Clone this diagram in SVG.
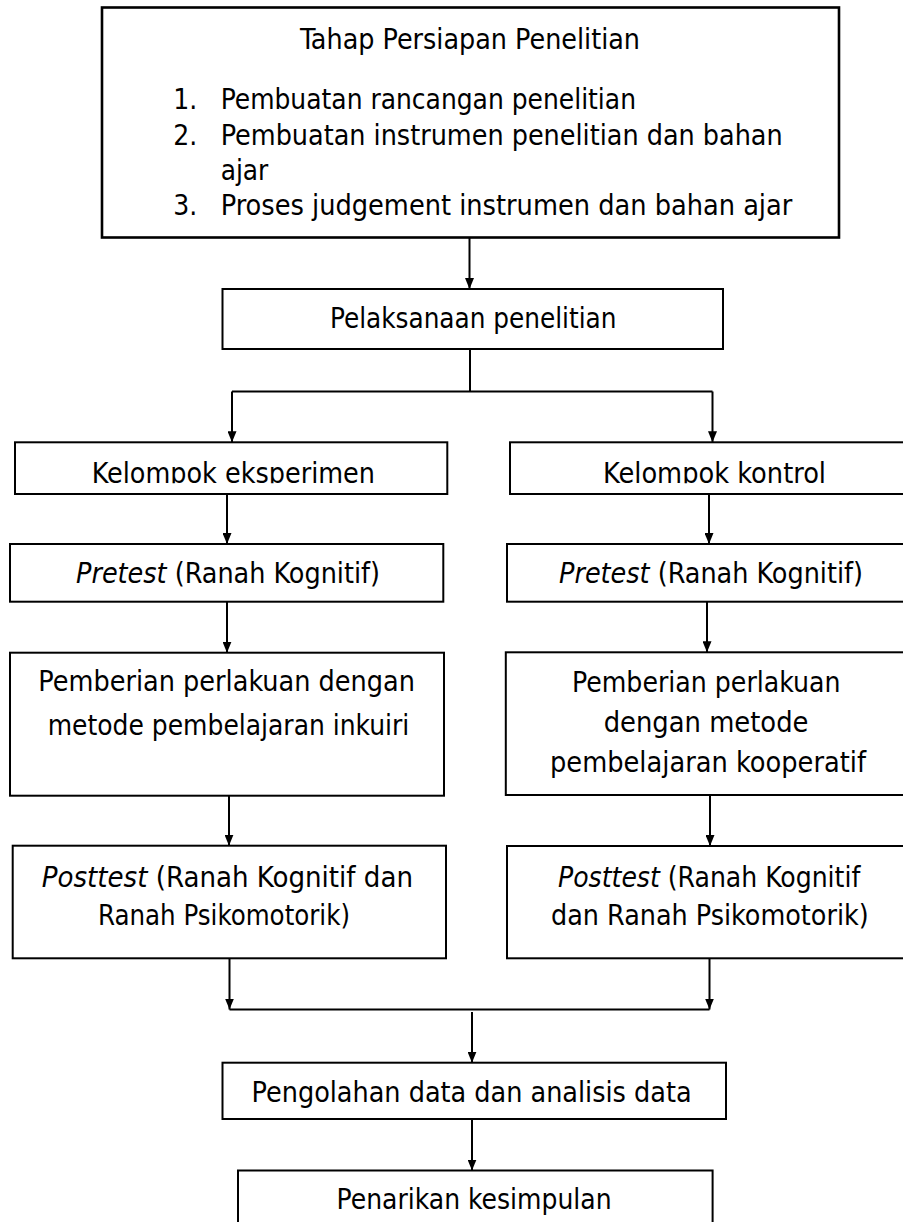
<svg xmlns="http://www.w3.org/2000/svg" width="903" height="1222" viewBox="0 0 903 1222">
<defs>
<style>
.box{fill:#fff;stroke:#000;stroke-width:2}
.big{stroke-width:2.6}
.t{font-family:"DejaVu Sans Condensed","DejaVu Sans",sans-serif;font-stretch:condensed;font-size:28px;fill:#000}
.i{font-style:italic}
.c{fill:none;stroke:#000;stroke-width:2}
</style>
<marker id="arr" markerUnits="userSpaceOnUse" markerWidth="11" markerHeight="9" refX="11" refY="4.5" orient="auto">
<path d="M0,0 L11,4.5 L0,9 Z" fill="#000"/>
</marker>
<clipPath id="clipK1"><rect x="15" y="442" width="433" height="41.3"/></clipPath>
<clipPath id="clipK2"><rect x="510" y="442" width="400" height="41.3"/></clipPath>
</defs>
<rect width="903" height="1222" fill="#fff"/>

<g id="node-persiapan">
<rect class="box big" x="102" y="7.5" width="737" height="230"/>
<text class="t" x="300" y="48.5" textLength="340" lengthAdjust="spacingAndGlyphs">Tahap Persiapan Penelitian</text>
<text class="t" x="173.3" y="109">1.</text>
<text class="t" x="220.7" y="109" textLength="415.3" lengthAdjust="spacingAndGlyphs">Pembuatan rancangan penelitian</text>
<text class="t" x="173.3" y="144.5">2.</text>
<text class="t" x="220.7" y="144.5" textLength="562" lengthAdjust="spacingAndGlyphs">Pembuatan instrumen penelitian dan bahan</text>
<text class="t" x="220.7" y="179.5" textLength="47.6" lengthAdjust="spacingAndGlyphs">ajar</text>
<text class="t" x="173.3" y="214.5">3.</text>
<text class="t" x="220.7" y="214.5" textLength="571.6" lengthAdjust="spacingAndGlyphs">Proses judgement instrumen dan bahan ajar</text>
</g>

<g id="node-pelaksanaan">
<rect class="box" x="222.5" y="289" width="500.5" height="60"/>
<text class="t" x="330" y="328.3" textLength="286.4" lengthAdjust="spacingAndGlyphs">Pelaksanaan penelitian</text>
</g>

<g id="node-kelompok-eksperimen">
<rect class="box" x="15" y="442.3" width="432.3" height="51.7"/>
<text class="t" x="91.7" y="482.5" textLength="283.3" lengthAdjust="spacingAndGlyphs" clip-path="url(#clipK1)">Kelompok eksperimen</text>
</g>

<g id="node-kelompok-kontrol">
<rect class="box" x="510" y="442.3" width="400" height="51.7"/>
<text class="t" x="603" y="482.5" textLength="223" lengthAdjust="spacingAndGlyphs" clip-path="url(#clipK2)">Kelompok kontrol</text>
</g>

<g id="node-pretest-eksperimen">
<rect class="box" x="10" y="544" width="433.3" height="57.7"/>
<text class="t" x="76" y="583" textLength="304" lengthAdjust="spacingAndGlyphs"><tspan class="i">Pretest</tspan> (Ranah Kognitif)</text>
</g>

<g id="node-pretest-kontrol">
<rect class="box" x="507" y="544" width="403" height="57.7"/>
<text class="t" x="559" y="583" textLength="304" lengthAdjust="spacingAndGlyphs"><tspan class="i">Pretest</tspan> (Ranah Kognitif)</text>
</g>

<g id="node-perlakuan-inkuiri">
<rect class="box" x="10" y="652.7" width="434" height="143"/>
<text class="t" x="38.3" y="690.5" textLength="376.7" lengthAdjust="spacingAndGlyphs">Pemberian perlakuan dengan</text>
<text class="t" x="47.7" y="734.5" textLength="361.6" lengthAdjust="spacingAndGlyphs">metode pembelajaran inkuiri</text>
</g>

<g id="node-perlakuan-kooperatif">
<rect class="box" x="505.8" y="652.3" width="404.2" height="142.7"/>
<text class="t" x="572" y="691.7" textLength="268.5" lengthAdjust="spacingAndGlyphs">Pemberian perlakuan</text>
<text class="t" x="603.7" y="731.7" textLength="204.8" lengthAdjust="spacingAndGlyphs">dengan metode</text>
<text class="t" x="550" y="771.7" textLength="316" lengthAdjust="spacingAndGlyphs">pembelajaran kooperatif</text>
</g>

<g id="node-posttest-eksperimen">
<rect class="box" x="12.7" y="845.7" width="433.3" height="112.6"/>
<text class="t" x="41.7" y="886.7" textLength="371.3" lengthAdjust="spacingAndGlyphs"><tspan class="i">Posttest</tspan> (Ranah Kognitif dan</text>
<text class="t" x="98" y="925" textLength="252" lengthAdjust="spacingAndGlyphs">Ranah Psikomotorik)</text>
</g>

<g id="node-posttest-kontrol">
<rect class="box" x="507" y="846" width="403" height="112.3"/>
<text class="t" x="558" y="886.7" textLength="302.3" lengthAdjust="spacingAndGlyphs"><tspan class="i">Posttest</tspan> (Ranah Kognitif</text>
<text class="t" x="551" y="925" textLength="317.7" lengthAdjust="spacingAndGlyphs">dan Ranah Psikomotorik)</text>
</g>

<g id="node-pengolahan">
<rect class="box" x="222.5" y="1062.7" width="503.5" height="56.3"/>
<text class="t" x="251.6" y="1101.5" textLength="440" lengthAdjust="spacingAndGlyphs">Pengolahan data dan analisis data</text>
</g>

<g id="node-penarikan">
<rect class="box" x="238" y="1170.5" width="474.6" height="70"/>
<text class="t" x="336.6" y="1209" textLength="275" lengthAdjust="spacingAndGlyphs">Penarikan kesimpulan</text>
</g>

<g id="connectors">
<path class="c" d="M469.5,237.5 V289" marker-end="url(#arr)"/>
<path class="c" d="M470,349 V391.5"/>
<path class="c" d="M232,391.5 H712.5"/>
<path class="c" d="M232,391.5 V442.3" marker-end="url(#arr)"/>
<path class="c" d="M712.5,391.5 V442.3" marker-end="url(#arr)"/>
<path class="c" d="M227,494 V544" marker-end="url(#arr)"/>
<path class="c" d="M709,494 V544" marker-end="url(#arr)"/>
<path class="c" d="M227,601.7 V652.7" marker-end="url(#arr)"/>
<path class="c" d="M707,601.7 V652.3" marker-end="url(#arr)"/>
<path class="c" d="M229,795.7 V845.7" marker-end="url(#arr)"/>
<path class="c" d="M710,795 V846" marker-end="url(#arr)"/>
<path class="c" d="M229.5,958.3 V1009.5" marker-end="url(#arr)"/>
<path class="c" d="M709.5,958.3 V1009.5" marker-end="url(#arr)"/>
<path class="c" d="M229.5,1009.5 H709.5"/>
<path class="c" d="M472,1012 V1062.7" marker-end="url(#arr)"/>
<path class="c" d="M472,1119 V1170.5" marker-end="url(#arr)"/>
</g>
</svg>
